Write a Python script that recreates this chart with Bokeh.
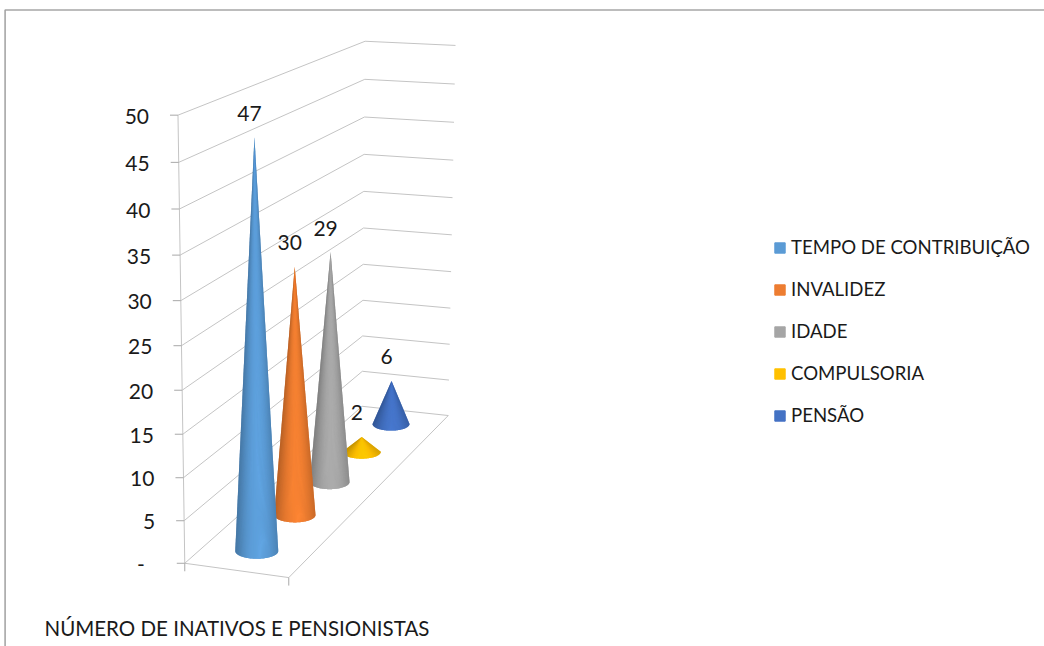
import numpy as np
from bokeh.embed import file_html
from bokeh.resources import INLINE
from bokeh.plotting import figure
from bokeh.models import Range1d, Legend, LegendItem
from bokeh.core.properties import value

# ---- data ----
categories = ["TEMPO DE CONTRIBUIÇÃO", "INVALIDEZ", "IDADE", "COMPULSORIA", "PENSÃO"]
values = [47, 30, 29, 2, 6]
colors = ["#5B9BD5", "#ED7D31", "#A5A5A5", "#FFC000", "#4472C4"]
y_ticks = [0, 5, 10, 15, 20, 25, 30, 35, 40, 45, 50]
y_tick_labels = ["-", "5", "10", "15", "20", "25", "30", "35", "40", "45", "50"]
axis_title = "NÚMERO DE INATIVOS E PENSIONISTAS"

FONT = "Lato"
W, H = 1044, 646
OX, OY = 0, 0

# ---- oblique 3-D scale: (x across, z depth, value) -> page pixels ----
anchors = [
    ((0, 0, 0), (185, 563)), ((1, 0, 0), (288, 577)),
    ((0, 1, 0), (361, 406)), ((1, 1, 0), (448, 415)),
    ((0, 0, 25), (181, 345)), ((0, 1, 25), (363, 227)),
    ((0, 0, 50), (177, 114.7)), ((0, 1, 50), (365, 41)), ((1, 1, 50), (455, 45)),
]
A, b = [], []
for (X, Z, V), (u, v) in anchors:
    A.append([X, Z, V, 1, 0, 0, 0, 0, -u * X, -u * Z, -u * V]); b.append(u)
    A.append([0, 0, 0, 0, X, Z, V, 1, -v * X, -v * Z, -v * V]); b.append(v)
m = np.linalg.lstsq(np.array(A, float), np.array(b, float), rcond=None)[0]


def proj(X, Z, V):
    d = m[8] * X + m[9] * Z + m[10] * V + 1
    return ((m[0] * X + m[1] * Z + m[2] * V + m[3]) / d,
            (m[4] * X + m[5] * Z + m[6] * V + m[7]) / d)


p = figure(width=W, height=H, output_backend="svg", toolbar_location=None,
           x_range=Range1d(OX, OX + W), y_range=Range1d(OY + H, OY),
           min_border=0, outline_line_color=None, background_fill_color="white",
           border_fill_color="white", x_axis_type=None, y_axis_type=None)
p.grid.visible = False

# outer frame
p.line([4.6, 4.6, OX + W], [OY + H, 9.5, 9.5], line_color="#a6a6a6", line_width=1.6)

GRID = "#c4c4c4"
# walls' grid lines
for t in y_ticks:
    pts = [proj(0, 0, t), proj(0, 1, t), proj(1, 1, t)]
    p.line([q[0] for q in pts], [q[1] for q in pts], line_color=GRID, line_width=1)
# floor edges
pts = [proj(0, 0, 0), proj(1, 0, 0), proj(1, 1, 0)]
p.line([q[0] for q in pts], [q[1] for q in pts], line_color=GRID, line_width=1)
# value axis with ticks
pts = [proj(0, 0, y_ticks[0]), proj(0, 0, y_ticks[-1])]
p.line([q[0] for q in pts], [q[1] for q in pts], line_color=GRID, line_width=1)
for t in y_ticks:
    q = proj(0, 0, t)
    p.line([q[0] - 8, q[0]], [q[1], q[1]], line_color="#a8a8a8", line_width=1)
for X in (0, 1):
    q = proj(X, 0, 0)
    p.line([q[0], q[0]], [q[1], q[1] + 8], line_color="#a8a8a8", line_width=1)

# tick labels
tx, ty, tt = [], [], []
for t, lab in zip(y_ticks, y_tick_labels):
    q = proj(0, 0, t)
    tx.append(q[0] - (40 if lab == "-" else 29))
    ty.append(q[1] + 1)
    tt.append(lab)
p.text(tx, ty, text=tt, text_font=value(FONT), text_font_size="21px",
       text_align="right", text_baseline="middle", text_color="#1a1a1a")


def shade(hexcol, u):
    c = np.array([int(hexcol[i:i + 2], 16) for i in (1, 3, 5)], float)
    f = 0.70 + 0.37 * (1 - ((u - 0.1) / 1.1) ** 2)
    c = np.clip(c * f, 0, 255).astype(int)
    return "#%02x%02x%02x" % tuple(c)


# cones, back to front
n = len(values)
N = 60
lx, ly, lt = [], [], []
for i in reversed(range(n)):
    Zc = (i + 0.5) / n
    cx, cy = proj(0.5, Zc, 0)
    ax, ay = proj(0.5, Zc, values[i])
    rx = proj(0.71, Zc, 0)[0] - cx
    ry = rx * 0.36
    th = np.linspace(np.pi, 0, N + 1)
    # silhouette underlay hides the seams between the shaded wedges
    p.patch([ax] + list(cx + rx * np.cos(th)), [ay] + list(cy + ry * np.sin(th)),
            fill_color=shade(colors[i], 0.75), line_color=None)
    xs, ys, cs = [], [], []
    for k in range(N):
        seg = np.linspace(th[k], th[k + 1], 3)
        xs.append([ax] + list(cx + rx * np.cos(seg)))
        ys.append([ay] + list(cy + ry * np.sin(seg)))
        cs.append(shade(colors[i], np.cos((th[k] + th[k + 1]) / 2)))
    p.patches(xs, ys, fill_color=cs, line_color=None)
    lx.append(ax - 5)
    ly.append(ay - 24)
    lt.append(str(values[i]))

# data labels
p.text(lx, ly, text=lt, text_font=value(FONT), text_font_size="21px",
       text_align="center", text_baseline="middle", text_color="#1a1a1a")

# axis title
p.text([44], [627], text=[axis_title], text_font=value(FONT), text_font_size="20.5px",
       text_align="left", text_baseline="middle", text_color="#1a1a1a")

# legend (swatch renderers sit outside the visible range)
items = []
for name, col in zip(categories, colors):
    r = p.rect(x=[-100], y=[-100], width=1, height=1, fill_color=col, line_color=col)
    items.append(LegendItem(label=name, renderers=[r]))
legend = Legend(items=items, location=(773, H - 426),
                orientation="vertical", border_line_color=None,
                background_fill_alpha=0, glyph_width=13, glyph_height=13,
                label_height=20, label_standoff=5, spacing=20, padding=0, margin=0,
                label_text_font=FONT, label_text_font_size="18.6px",
                label_text_color="#1a1a1a")
p.add_layout(legend, "center")

open("out.html", "w").write(file_html(p, INLINE))
